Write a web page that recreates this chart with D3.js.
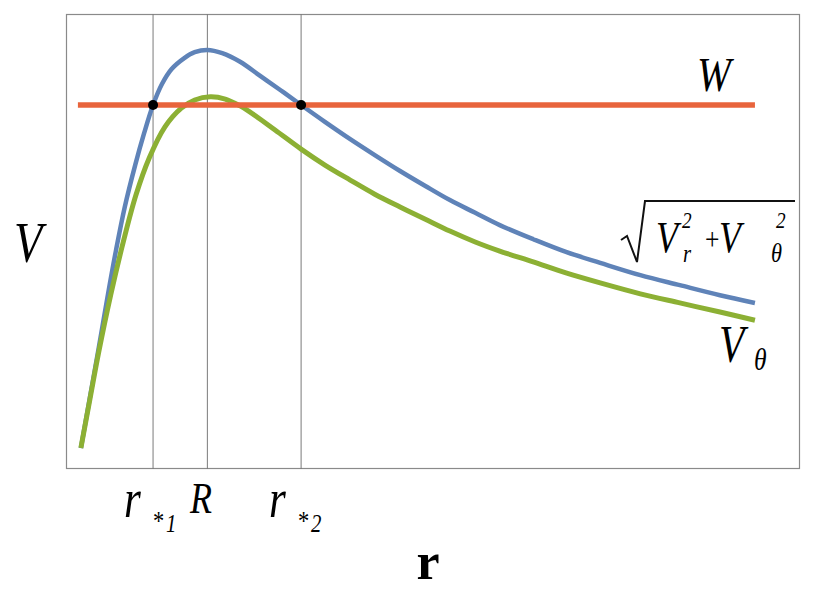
<!DOCTYPE html>
<html><head><meta charset="utf-8">
<script src="https://cdn.jsdelivr.net/npm/d3@7"></script>
<style>
html,body{margin:0;padding:0;background:#fff;}
</style></head>
<body>
<script>
// r values and curve values (arbitrary units)
const rTotal = [0.20,0.32,0.44,0.56,0.67,0.79,0.93,1.05,1.17,1.29,1.42,1.59,1.73,1.90,2.10,2.34,2.61,2.88,3.16,3.48,3.82,4.15,4.49,4.83,5.16,5.50,5.83,6.28,6.72,7.18,7.72,8.25,8.79,9.26];
const vTotal = [0.46,1.56,2.66,3.80,4.79,5.76,6.68,7.38,8.00,8.46,8.79,9.03,9.16,9.21,9.14,8.95,8.64,8.33,8.00,7.63,7.25,6.90,6.55,6.22,5.91,5.63,5.36,5.05,4.77,4.53,4.26,4.04,3.82,3.65];
const rTheta = [0.20,0.32,0.44,0.60,0.77,0.94,1.12,1.33,1.55,1.73,1.94,2.14,2.34,2.47,2.81,3.16,3.48,3.82,4.15,4.49,4.83,5.16,5.50,5.83,6.28,6.72,7.18,7.72,8.25,8.79,9.26];
const vTheta = [0.46,1.52,2.57,3.82,4.99,6.02,6.84,7.52,7.93,8.11,8.18,8.13,7.98,7.85,7.45,7.03,6.68,6.35,6.04,5.76,5.49,5.23,4.99,4.79,4.55,4.31,4.09,3.85,3.65,3.45,3.27];
const wLevel = 8.00;
const wRange = [0.16, 9.26];
const markerR = [1.17, 1.90, 3.16];        // r*1, R, r*2
const crossR = [1.17, 3.16];
const labels = {W:"W", V:"V", r:"r", R:"R", theta:"θ"};

const W = 816, H = 591;
const svg = d3.select("body").append("svg").attr("width", W).attr("height", H);
const x = d3.scaleLinear().domain([0, 10]).range([66, 810]);
const y = d3.scaleLinear().domain([0, 10]).range([469, 14]);

// frame
svg.append("rect").attr("x", 66.5).attr("y", 14.5).attr("width", 733).attr("height", 454)
  .attr("fill", "none").attr("stroke", "#8a8a8a").attr("stroke-width", 1.2);

// vertical marker lines
svg.selectAll("line.vm").data(markerR).join("line").attr("class", "vm")
  .attr("x1", d => x(d)).attr("x2", d => x(d)).attr("y1", 14).attr("y2", 469)
  .attr("stroke", "#7a7a7a").attr("stroke-width", 1);

const line = d3.line().x(d => x(d[0])).y(d => y(d[1])).curve(d3.curveCatmullRom.alpha(0.5));
svg.append("path").datum(rTotal.map((r, i) => [r, vTotal[i]])).attr("d", line)
  .attr("fill", "none").attr("stroke", "#5f83b8").attr("stroke-width", 4.5);
svg.append("path").datum(rTheta.map((r, i) => [r, vTheta[i]])).attr("d", line)
  .attr("fill", "none").attr("stroke", "#8cb034").attr("stroke-width", 5);
svg.append("line").attr("x1", x(wRange[0])).attr("x2", x(wRange[1])).attr("y1", y(wLevel)).attr("y2", y(wLevel))
  .attr("stroke", "#e8643c").attr("stroke-width", 5.5);
svg.selectAll("circle.cross").data(crossR).join("circle").attr("class", "cross")
  .attr("cx", d => x(d)).attr("cy", y(wLevel)).attr("r", 5).attr("fill", "#000");

// text helper: position via a wrapping group, condensed horizontally
function t(str, px, py, size, opts = {}) {
  const sx = opts.sx || 0.8;
  const g = svg.append("g").attr("transform", `translate(${px},${py}) scale(${sx},1)`);
  const el = g.append("text")
    .attr("x", 0).attr("y", 0)
    .style("font-family", '"Liberation Serif"')
    .style("font-style", opts.italic === false ? "normal" : "italic")
    .style("font-weight", opts.bold ? "bold" : "normal")
    .style("font-size", size + "px")
    .text(str);
  if (opts.anchor) el.attr("text-anchor", opts.anchor);
  return el;
}

t(labels.W, 697, 91, 48, {sx: 0.85});
t(labels.V, 14, 262, 58);
t(labels.r, 428, 579, 52, {italic: false, anchor: "middle", sx: 1, bold: true});

// x tick labels
t("r", 124, 517, 54);
t("*", 153, 530, 28, {italic: false});
t("1", 166, 532, 26);
t(labels.R, 190, 513, 45);
t("r", 269, 517, 54);
t("*", 298, 530, 28, {italic: false});
t("2", 311, 532, 26);

// sqrt label
svg.append("path")
  .attr("d", "M621,240 L627,236 L637,262 L645,201 L795,201")
  .attr("fill", "none").attr("stroke", "#111").attr("stroke-width", 2);
t("V", 656, 252, 45);
t("2", 682, 228, 24);
t("r", 683, 262, 26);
t("+", 705, 250, 32, {italic: false});
t("V", 719, 252, 45);
t("2", 776, 228, 24);
t(labels.theta, 771, 262, 28);

// V theta label
t("V", 719, 362, 52);
t(labels.theta, 754, 370, 32);
</script>
</body></html>
